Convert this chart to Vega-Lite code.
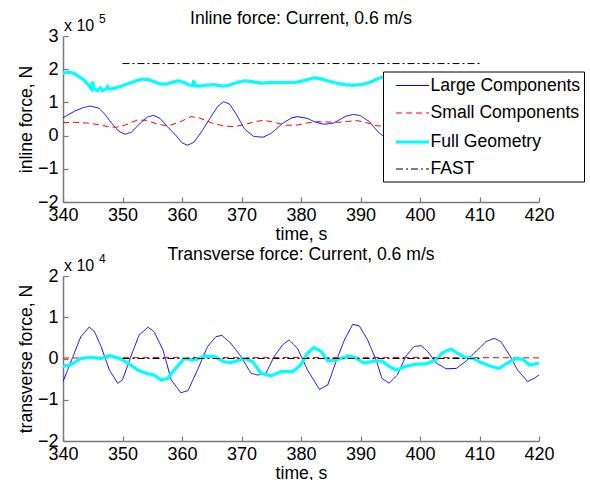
{
  "$schema": "https://vega.github.io/schema/vega-lite/v6.json",
  "padding": {"left": 17, "top": 10, "right": 2, "bottom": 2},
  "background": "white",
  "config": {
    "font": "Liberation Sans",
    "view": {"stroke": null},
    "axis": {
      "grid": false,
      "labelFont": "Liberation Sans",
      "labelFontSize": 18,
      "labelColor": "black",
      "labelOverlap": false,
      "labelFlush": false,
      "titleFont": "Liberation Sans",
      "titleFontSize": 17.6,
      "titleFontWeight": "normal",
      "titleColor": "black",
      "domainColor": "#7a7a7a",
      "domainWidth": 1.5,
      "tickColor": "#7a7a7a",
      "tickWidth": 1.2,
      "tickSize": -5
    },
    "title": {"font": "Liberation Sans", "fontSize": 17.6, "fontWeight": "normal", "color": "black", "anchor": "middle", "frame": "group"},
    "legend": {
      "labelFont": "Liberation Sans",
      "labelFontSize": 17.6,
      "labelColor": "black",
      "symbolType": "M-0.25,0H3.05",
      "symbolSize": 400,
      "rowPadding": 7.5,
      "labelOffset": 20,
      "padding": 3.5,
      "fillColor": "white",
      "strokeColor": "black",
      "cornerRadius": 0
    }
  },
  "datasets": {
    "inline": [
      {"series": "Large Components", "time": 340, "force": 54000},
      {"series": "Large Components", "time": 342, "force": 74000},
      {"series": "Large Components", "time": 343.5, "force": 85000},
      {"series": "Large Components", "time": 344.6, "force": 89000},
      {"series": "Large Components", "time": 346, "force": 83000},
      {"series": "Large Components", "time": 347, "force": 65000},
      {"series": "Large Components", "time": 348.1, "force": 39000},
      {"series": "Large Components", "time": 349.3, "force": 14000},
      {"series": "Large Components", "time": 350.4, "force": 4000},
      {"series": "Large Components", "time": 351.5, "force": 10000},
      {"series": "Large Components", "time": 353, "force": 38000},
      {"series": "Large Components", "time": 354.2, "force": 56000},
      {"series": "Large Components", "time": 355.2, "force": 61000},
      {"series": "Large Components", "time": 356.3, "force": 52000},
      {"series": "Large Components", "time": 357.5, "force": 28000},
      {"series": "Large Components", "time": 359, "force": 0},
      {"series": "Large Components", "time": 360, "force": -22000},
      {"series": "Large Components", "time": 360.95, "force": -29000},
      {"series": "Large Components", "time": 362, "force": -20000},
      {"series": "Large Components", "time": 363.3, "force": 12000},
      {"series": "Large Components", "time": 364.8, "force": 55000},
      {"series": "Large Components", "time": 366, "force": 88000},
      {"series": "Large Components", "time": 367, "force": 102000},
      {"series": "Large Components", "time": 368, "force": 95000},
      {"series": "Large Components", "time": 369.2, "force": 62000},
      {"series": "Large Components", "time": 370.5, "force": 20000},
      {"series": "Large Components", "time": 372, "force": -2000},
      {"series": "Large Components", "time": 373.6, "force": -5000},
      {"series": "Large Components", "time": 375, "force": 7000},
      {"series": "Large Components", "time": 377, "force": 38000},
      {"series": "Large Components", "time": 378.5, "force": 54000},
      {"series": "Large Components", "time": 379.4, "force": 57000},
      {"series": "Large Components", "time": 381, "force": 52000},
      {"series": "Large Components", "time": 382.5, "force": 40000},
      {"series": "Large Components", "time": 383.9, "force": 34000},
      {"series": "Large Components", "time": 385.5, "force": 38000},
      {"series": "Large Components", "time": 387.5, "force": 58000},
      {"series": "Large Components", "time": 388.8, "force": 64000},
      {"series": "Large Components", "time": 390, "force": 60000},
      {"series": "Large Components", "time": 391.5, "force": 42000},
      {"series": "Large Components", "time": 393, "force": 10000},
      {"series": "Large Components", "time": 394.4, "force": -9000},
      {"series": "Small Components", "time": 340, "force": 39000},
      {"series": "Small Components", "time": 342, "force": 40000},
      {"series": "Small Components", "time": 344, "force": 38000},
      {"series": "Small Components", "time": 346, "force": 33000},
      {"series": "Small Components", "time": 347.5, "force": 27000},
      {"series": "Small Components", "time": 349, "force": 25000},
      {"series": "Small Components", "time": 350.5, "force": 32000},
      {"series": "Small Components", "time": 352.5, "force": 47000},
      {"series": "Small Components", "time": 354, "force": 46000},
      {"series": "Small Components", "time": 356, "force": 34000},
      {"series": "Small Components", "time": 357.6, "force": 29000},
      {"series": "Small Components", "time": 359.5, "force": 40000},
      {"series": "Small Components", "time": 361.5, "force": 57000},
      {"series": "Small Components", "time": 363, "force": 53000},
      {"series": "Small Components", "time": 365, "force": 38000},
      {"series": "Small Components", "time": 367, "force": 29000},
      {"series": "Small Components", "time": 368.8, "force": 27000},
      {"series": "Small Components", "time": 370.5, "force": 33000},
      {"series": "Small Components", "time": 372.5, "force": 43000},
      {"series": "Small Components", "time": 373.8, "force": 46000},
      {"series": "Small Components", "time": 375.5, "force": 40000},
      {"series": "Small Components", "time": 377.5, "force": 31000},
      {"series": "Small Components", "time": 379.5, "force": 32000},
      {"series": "Small Components", "time": 381, "force": 38000},
      {"series": "Small Components", "time": 382.8, "force": 42000},
      {"series": "Small Components", "time": 384.5, "force": 41000},
      {"series": "Small Components", "time": 386.5, "force": 40000},
      {"series": "Small Components", "time": 388, "force": 43000},
      {"series": "Small Components", "time": 389.5, "force": 45000},
      {"series": "Small Components", "time": 391, "force": 39000},
      {"series": "Small Components", "time": 392.9, "force": 29000},
      {"series": "Small Components", "time": 394.4, "force": 29000},
      {"series": "Full Geometry", "time": 340, "force": 188000},
      {"series": "Full Geometry", "time": 340.8, "force": 191000},
      {"series": "Full Geometry", "time": 341.6, "force": 189000},
      {"series": "Full Geometry", "time": 342.5, "force": 180000},
      {"series": "Full Geometry", "time": 343.5, "force": 168000},
      {"series": "Full Geometry", "time": 344.3, "force": 152000},
      {"series": "Full Geometry", "time": 344.8, "force": 140000},
      {"series": "Full Geometry", "time": 345.0, "force": 162000},
      {"series": "Full Geometry", "time": 345.2, "force": 140000},
      {"series": "Full Geometry", "time": 345.8, "force": 136000},
      {"series": "Full Geometry", "time": 346.3, "force": 144000},
      {"series": "Full Geometry", "time": 346.6, "force": 135000},
      {"series": "Full Geometry", "time": 347.2, "force": 140000},
      {"series": "Full Geometry", "time": 347.5, "force": 148000},
      {"series": "Full Geometry", "time": 347.8, "force": 140000},
      {"series": "Full Geometry", "time": 348.5, "force": 142000},
      {"series": "Full Geometry", "time": 349.5, "force": 147000},
      {"series": "Full Geometry", "time": 350.4, "force": 153000},
      {"series": "Full Geometry", "time": 351.5, "force": 160000},
      {"series": "Full Geometry", "time": 352.5, "force": 166000},
      {"series": "Full Geometry", "time": 353.3, "force": 170000},
      {"series": "Full Geometry", "time": 354.3, "force": 169000},
      {"series": "Full Geometry", "time": 355.3, "force": 162000},
      {"series": "Full Geometry", "time": 356.3, "force": 156000},
      {"series": "Full Geometry", "time": 357.3, "force": 155000},
      {"series": "Full Geometry", "time": 358.3, "force": 160000},
      {"series": "Full Geometry", "time": 359.4, "force": 165000},
      {"series": "Full Geometry", "time": 360.3, "force": 160000},
      {"series": "Full Geometry", "time": 361.2, "force": 152000},
      {"series": "Full Geometry", "time": 361.8, "force": 152000},
      {"series": "Full Geometry", "time": 362.0, "force": 166000},
      {"series": "Full Geometry", "time": 362.2, "force": 150000},
      {"series": "Full Geometry", "time": 363, "force": 149000},
      {"series": "Full Geometry", "time": 364, "force": 152000},
      {"series": "Full Geometry", "time": 365.5, "force": 153000},
      {"series": "Full Geometry", "time": 367, "force": 149000},
      {"series": "Full Geometry", "time": 368, "force": 152000},
      {"series": "Full Geometry", "time": 369, "force": 159000},
      {"series": "Full Geometry", "time": 370.5, "force": 165000},
      {"series": "Full Geometry", "time": 372, "force": 162000},
      {"series": "Full Geometry", "time": 373.3, "force": 158000},
      {"series": "Full Geometry", "time": 375, "force": 160000},
      {"series": "Full Geometry", "time": 377, "force": 160000},
      {"series": "Full Geometry", "time": 379, "force": 160000},
      {"series": "Full Geometry", "time": 380.6, "force": 166000},
      {"series": "Full Geometry", "time": 382.2, "force": 174000},
      {"series": "Full Geometry", "time": 383.3, "force": 171000},
      {"series": "Full Geometry", "time": 384.5, "force": 165000},
      {"series": "Full Geometry", "time": 386, "force": 158000},
      {"series": "Full Geometry", "time": 387.5, "force": 153000},
      {"series": "Full Geometry", "time": 389, "force": 152000},
      {"series": "Full Geometry", "time": 390.3, "force": 154000},
      {"series": "Full Geometry", "time": 391.5, "force": 160000},
      {"series": "Full Geometry", "time": 392.5, "force": 168000},
      {"series": "Full Geometry", "time": 393.5, "force": 175000},
      {"series": "Full Geometry", "time": 394.4, "force": 177000},
      {"series": "FAST", "time": 350, "force": 217000},
      {"series": "FAST", "time": 410, "force": 217000}
    ],
    "transverse": [
      {"series": "Large Components", "time": 340, "force": -5600},
      {"series": "Large Components", "time": 341.9, "force": 1300},
      {"series": "Large Components", "time": 343.0, "force": 5300},
      {"series": "Large Components", "time": 344.4, "force": 7600},
      {"series": "Large Components", "time": 345.3, "force": 6500},
      {"series": "Large Components", "time": 346.4, "force": 2900},
      {"series": "Large Components", "time": 347.8, "force": -2800},
      {"series": "Large Components", "time": 349.2, "force": -6000},
      {"series": "Large Components", "time": 350.0, "force": -5200},
      {"series": "Large Components", "time": 351.4, "force": 500},
      {"series": "Large Components", "time": 352.8, "force": 5700},
      {"series": "Large Components", "time": 354.3, "force": 7600},
      {"series": "Large Components", "time": 355.3, "force": 6500},
      {"series": "Large Components", "time": 356.8, "force": 2100},
      {"series": "Large Components", "time": 358.2, "force": -5200},
      {"series": "Large Components", "time": 359.8, "force": -8300},
      {"series": "Large Components", "time": 361.0, "force": -7800},
      {"series": "Large Components", "time": 362.6, "force": -2800},
      {"series": "Large Components", "time": 364.3, "force": 2900},
      {"series": "Large Components", "time": 365.7, "force": 5300},
      {"series": "Large Components", "time": 366.7, "force": 5600},
      {"series": "Large Components", "time": 368.2, "force": 3700},
      {"series": "Large Components", "time": 369.9, "force": 500},
      {"series": "Large Components", "time": 371.6, "force": -3600},
      {"series": "Large Components", "time": 372.7, "force": -4000},
      {"series": "Large Components", "time": 374.1, "force": -3600},
      {"series": "Large Components", "time": 375.5, "force": 500},
      {"series": "Large Components", "time": 376.9, "force": 3300},
      {"series": "Large Components", "time": 378.0, "force": 4500},
      {"series": "Large Components", "time": 379.4, "force": 2500},
      {"series": "Large Components", "time": 381.1, "force": -2800},
      {"series": "Large Components", "time": 383.1, "force": -7500},
      {"series": "Large Components", "time": 384.5, "force": -6400},
      {"series": "Large Components", "time": 385.9, "force": -700},
      {"series": "Large Components", "time": 387.3, "force": 4500},
      {"series": "Large Components", "time": 388.7, "force": 8300},
      {"series": "Large Components", "time": 389.8, "force": 7900},
      {"series": "Large Components", "time": 391.2, "force": 4500},
      {"series": "Large Components", "time": 392.6, "force": -300},
      {"series": "Large Components", "time": 393.6, "force": -4800},
      {"series": "Large Components", "time": 394.8, "force": -6000},
      {"series": "Large Components", "time": 396.2, "force": -4000},
      {"series": "Large Components", "time": 397.6, "force": 500},
      {"series": "Large Components", "time": 399.0, "force": 2900},
      {"series": "Large Components", "time": 400.2, "force": 3100},
      {"series": "Large Components", "time": 401.3, "force": 1700},
      {"series": "Large Components", "time": 402.7, "force": -1100},
      {"series": "Large Components", "time": 404.4, "force": -2500},
      {"series": "Large Components", "time": 406.1, "force": -2400},
      {"series": "Large Components", "time": 407.7, "force": -700},
      {"series": "Large Components", "time": 409.4, "force": 1700},
      {"series": "Large Components", "time": 411.1, "force": 4100},
      {"series": "Large Components", "time": 412.5, "force": 4900},
      {"series": "Large Components", "time": 413.6, "force": 4100},
      {"series": "Large Components", "time": 415.0, "force": 900},
      {"series": "Large Components", "time": 416.4, "force": -2800},
      {"series": "Large Components", "time": 418.1, "force": -5600},
      {"series": "Large Components", "time": 419.2, "force": -4800},
      {"series": "Large Components", "time": 420, "force": -4000},
      {"series": "Small Components", "time": 340, "force": 100},
      {"series": "Small Components", "time": 350, "force": 200},
      {"series": "Small Components", "time": 360, "force": 250},
      {"series": "Small Components", "time": 370, "force": 200},
      {"series": "Small Components", "time": 380, "force": 250},
      {"series": "Small Components", "time": 390, "force": 200},
      {"series": "Small Components", "time": 400, "force": 250},
      {"series": "Small Components", "time": 410, "force": 200},
      {"series": "Small Components", "time": 420, "force": 150},
      {"series": "Full Geometry", "time": 340, "force": -1900},
      {"series": "Full Geometry", "time": 341.3, "force": -1500},
      {"series": "Full Geometry", "time": 343.0, "force": 0},
      {"series": "Full Geometry", "time": 344.7, "force": 300},
      {"series": "Full Geometry", "time": 346.4, "force": 0},
      {"series": "Full Geometry", "time": 347.8, "force": 700},
      {"series": "Full Geometry", "time": 349.5, "force": 0},
      {"series": "Full Geometry", "time": 350.9, "force": -1100},
      {"series": "Full Geometry", "time": 352.6, "force": -2800},
      {"series": "Full Geometry", "time": 354.2, "force": -3700},
      {"series": "Full Geometry", "time": 355.3, "force": -4000},
      {"series": "Full Geometry", "time": 356.5, "force": -5200},
      {"series": "Full Geometry", "time": 357.6, "force": -4800},
      {"series": "Full Geometry", "time": 358.7, "force": -2800},
      {"series": "Full Geometry", "time": 360.4, "force": 0},
      {"series": "Full Geometry", "time": 362.1, "force": -400},
      {"series": "Full Geometry", "time": 363.7, "force": 500},
      {"series": "Full Geometry", "time": 365.4, "force": 500},
      {"series": "Full Geometry", "time": 367.1, "force": -800},
      {"series": "Full Geometry", "time": 368.2, "force": -1000},
      {"series": "Full Geometry", "time": 370.5, "force": 0},
      {"series": "Full Geometry", "time": 371.9, "force": -800},
      {"series": "Full Geometry", "time": 373.3, "force": -3600},
      {"series": "Full Geometry", "time": 375.0, "force": -4200},
      {"series": "Full Geometry", "time": 376.6, "force": -3200},
      {"series": "Full Geometry", "time": 378.6, "force": -3200},
      {"series": "Full Geometry", "time": 380.0, "force": -1500},
      {"series": "Full Geometry", "time": 381.1, "force": 1300},
      {"series": "Full Geometry", "time": 382.2, "force": 2700},
      {"series": "Full Geometry", "time": 383.4, "force": 1700},
      {"series": "Full Geometry", "time": 384.5, "force": -600},
      {"series": "Full Geometry", "time": 385.9, "force": -400},
      {"series": "Full Geometry", "time": 387.9, "force": 600},
      {"series": "Full Geometry", "time": 389.0, "force": 300},
      {"series": "Full Geometry", "time": 390.6, "force": -1100},
      {"series": "Full Geometry", "time": 392.3, "force": -600},
      {"series": "Full Geometry", "time": 393.6, "force": -600},
      {"series": "Full Geometry", "time": 394.8, "force": -1900},
      {"series": "Full Geometry", "time": 396.0, "force": -2800},
      {"series": "Full Geometry", "time": 397.6, "force": -1900},
      {"series": "Full Geometry", "time": 399.3, "force": -1400},
      {"series": "Full Geometry", "time": 401.0, "force": -1300},
      {"series": "Full Geometry", "time": 402.7, "force": -400},
      {"series": "Full Geometry", "time": 403.8, "force": 1400},
      {"series": "Full Geometry", "time": 405.2, "force": 2300},
      {"series": "Full Geometry", "time": 406.3, "force": 1300},
      {"series": "Full Geometry", "time": 407.5, "force": 300},
      {"series": "Full Geometry", "time": 408.9, "force": 0},
      {"series": "Full Geometry", "time": 410.5, "force": -1100},
      {"series": "Full Geometry", "time": 411.9, "force": -1900},
      {"series": "Full Geometry", "time": 413.3, "force": -2400},
      {"series": "Full Geometry", "time": 414.7, "force": -1100},
      {"series": "Full Geometry", "time": 416.1, "force": 0},
      {"series": "Full Geometry", "time": 417.3, "force": -200},
      {"series": "Full Geometry", "time": 418.4, "force": -1600},
      {"series": "Full Geometry", "time": 420, "force": -1100},
      {"series": "FAST", "time": 350, "force": 0},
      {"series": "FAST", "time": 410, "force": 0}
    ]
  },
  "vconcat": [
    {
      "width": 476,
      "height": 166,
      "title": {"text": "Inline force: Current, 0.6 m/s", "offset": -29, "baseline": "alphabetic"},
      "layer": [
        {
          "data": {"name": "inline"},
          "mark": {"type": "line", "clip": true},
          "encoding": {
            "x": {"field": "time", "type": "quantitative", "title": "time, s",
                  "scale": {"domain": [340, 420], "nice": false, "zero": false},
                  "axis": {"values": [340, 350, 360, 370, 380, 390, 400, 410, 420], "tickCount": 20, "format": "d", "labelPadding": 9, "titlePadding": 1}},
            "y": {"field": "force", "type": "quantitative", "title": "inline force, N",
                  "scale": {"domain": [-200000, 300000], "nice": false},
                  "axis": {"values": [-200000, -100000, 0, 100000, 200000, 300000], "tickCount": 20, "labelExpr": "format(datum.value/100000, 'd')", "labelOverlap": false, "labelPadding": 10, "titlePadding": 2}},
            "color": {"field": "series", "type": "nominal",
                      "scale": {"domain": ["Large Components", "Small Components", "Full Geometry", "FAST"], "range": ["#0000ff", "#ff0000", "#00ffff", "#000000"]},
                      "legend": {"title": null, "orient": "none", "legendX": 320, "legendY": 35.5}},
            "strokeDash": {"field": "series", "type": "nominal",
                      "scale": {"domain": ["Large Components", "Small Components", "Full Geometry", "FAST"], "range": [[1, 0], [6, 4], [1, 0], [7, 3, 2, 3]]},
                      "legend": {"title": null, "orient": "none", "legendX": 320, "legendY": 35.5}},
            "strokeWidth": {"field": "series", "type": "nominal",
                      "scale": {"type": "ordinal", "domain": ["Large Components", "Small Components", "Full Geometry", "FAST"], "range": [1, 1, 3.2, 1]},
                      "legend": {"title": null, "orient": "none", "legendX": 320, "legendY": 35.5}},
            "order": {"field": "time", "type": "quantitative"}
          }
        },
        {
          "data": {"values": [{"note": "x 10"}]},
          "mark": {"type": "text", "align": "left", "baseline": "alphabetic", "dx": 1, "dy": -5, "fontSize": 16, "font": "Liberation Sans", "color": "black", "clip": false},
          "encoding": {"text": {"field": "note"}, "x": {"datum": 340, "type": "quantitative"}, "y": {"datum": 300000, "type": "quantitative"}}
        },
        {
          "data": {"values": [{"note": "5"}]},
          "mark": {"type": "text", "align": "left", "baseline": "alphabetic", "dx": 36, "dy": -13, "fontSize": 12, "font": "Liberation Sans", "color": "black", "clip": false},
          "encoding": {"text": {"field": "note"}, "x": {"datum": 340, "type": "quantitative"}, "y": {"datum": 300000, "type": "quantitative"}}
        }
      ]
    },
    {
      "width": 476,
      "height": 165,
      "title": {"text": "Transverse force: Current, 0.6 m/s", "offset": -25, "baseline": "alphabetic"},
      "layer": [
        {
          "data": {"name": "transverse"},
          "mark": {"type": "line", "clip": true},
          "encoding": {
            "x": {"field": "time", "type": "quantitative", "title": "time, s",
                  "scale": {"domain": [340, 420], "nice": false, "zero": false},
                  "axis": {"values": [340, 350, 360, 370, 380, 390, 400, 410, 420], "tickCount": 20, "format": "d", "labelPadding": 9, "titlePadding": 1}},
            "y": {"field": "force", "type": "quantitative", "title": "transverse force, N",
                  "scale": {"domain": [-20000, 20000], "nice": false},
                  "axis": {"values": [-20000, -10000, 0, 10000, 20000], "tickCount": 20, "labelExpr": "format(datum.value/10000, 'd')", "labelOverlap": false, "labelPadding": 10, "titlePadding": 2}},
            "color": {"field": "series", "type": "nominal",
                      "scale": {"domain": ["Large Components", "Small Components", "Full Geometry", "FAST"], "range": ["#0000ff", "#ff0000", "#00ffff", "#000000"]}},
            "strokeDash": {"field": "series", "type": "nominal",
                      "scale": {"domain": ["Large Components", "Small Components", "Full Geometry", "FAST"], "range": [[1, 0], [6, 4], [1, 0], [7, 3, 2, 3]]}},
            "strokeWidth": {"field": "series", "type": "nominal",
                      "scale": {"type": "ordinal", "domain": ["Large Components", "Small Components", "Full Geometry", "FAST"], "range": [1, 1, 3.2, 1]}},
            "order": {"field": "time", "type": "quantitative"}
          }
        },
        {
          "data": {"values": [{"note": "x 10"}]},
          "mark": {"type": "text", "align": "left", "baseline": "alphabetic", "dx": 1, "dy": -5, "fontSize": 16, "font": "Liberation Sans", "color": "black", "clip": false},
          "encoding": {"text": {"field": "note"}, "x": {"datum": 340, "type": "quantitative"}, "y": {"datum": 20000, "type": "quantitative"}}
        },
        {
          "data": {"values": [{"note": "4"}]},
          "mark": {"type": "text", "align": "left", "baseline": "alphabetic", "dx": 36, "dy": -13, "fontSize": 12, "font": "Liberation Sans", "color": "black", "clip": false},
          "encoding": {"text": {"field": "note"}, "x": {"datum": 340, "type": "quantitative"}, "y": {"datum": 20000, "type": "quantitative"}}
        }
      ]
    }
  ],
  "spacing": 74,
  "bounds": "flush",
  "resolve": {"scale": {"y": "independent"}}
}
